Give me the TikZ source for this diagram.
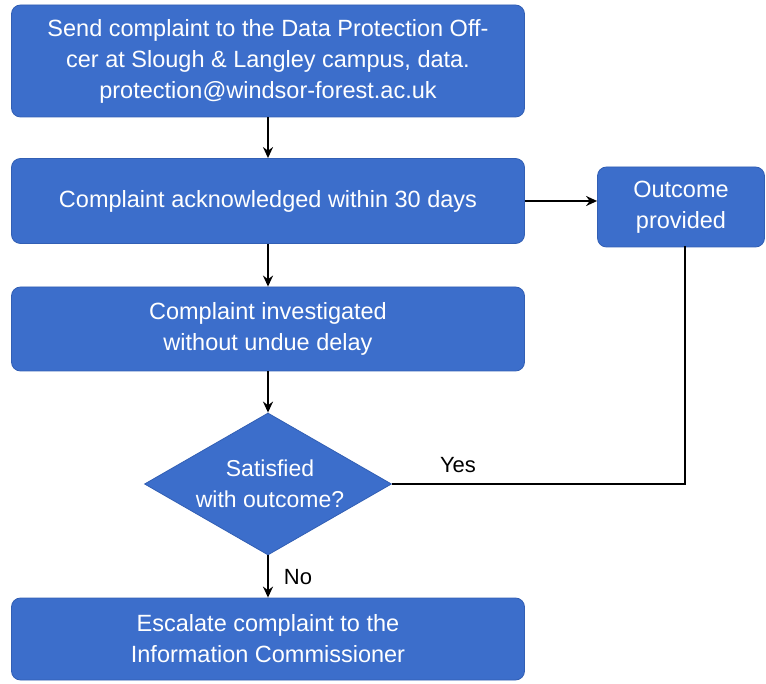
\documentclass[tikz,border=0pt]{standalone}
\usepackage{fontspec}
\setmainfont{Liberation Sans}
\usetikzlibrary{shapes.geometric,arrows.meta,calc}
\definecolor{boxblue}{RGB}{60,110,203}
\definecolor{boxedge}{RGB}{50,95,180}
\begin{document}
\begin{tikzpicture}[x=1pt,y=-1pt,
  box/.style={draw=boxedge,line width=0.8pt,fill=boxblue,rounded corners=9pt,text=white,align=center,inner sep=0pt,font=\fontsize{23.5}{31}\selectfont},
  dia/.style={diamond,draw=boxedge,line width=0.8pt,fill=boxblue,text=white,align=center,inner sep=0pt,aspect=1.74},
  conn/.style={line width=2.2pt,-{Stealth[length=11pt,width=10pt]}},
  lab/.style={font=\fontsize{22}{26}\selectfont}]
\useasboundingbox (0,0) rectangle (766,684);
\node[box,minimum width=513pt,minimum height=112pt] (b1) at (268,61) {Send complaint to the Data Protection Off-\\cer at Slough \& Langley campus, data.\\protection@windsor-forest.ac.uk};
\node[box,minimum width=513pt,minimum height=85pt] (b2) at (268,201) {Complaint acknowledged within 30 days};
\node[box,minimum width=513pt,minimum height=84pt] (b3) at (268,329) {Complaint investigated\\without undue delay};
\node[dia,minimum width=247pt,minimum height=142pt] (d) at (268,484) {};
\node[text=white,align=center,font=\fontsize{23}{31}\selectfont] (dt) at (270,484) {Satisfied\\with outcome?};
\node[box,minimum width=513pt,minimum height=82pt] (b4) at (268,639) {Escalate complaint to the\\Information Commissioner};
\node[box,minimum width=167pt,minimum height=80pt] (o) at (681,207) {Outcome\\provided};
\coordinate (oc) at (685,246);
\draw[conn] (b1) -- (b2);
\draw[conn] (b2) -- (b3);
\draw[conn] (b3) -- (d.north);
\draw[conn] (d.south) -- (b4);
\draw[conn] (b2.east) -- (o.west |- b2.east);
\draw[line width=2.2pt] (oc) |- (d.east);
\node[lab] (yes) at (458,465) {Yes};
\node[lab] (no) at (298,577) {No};
\end{tikzpicture}
\end{document}
